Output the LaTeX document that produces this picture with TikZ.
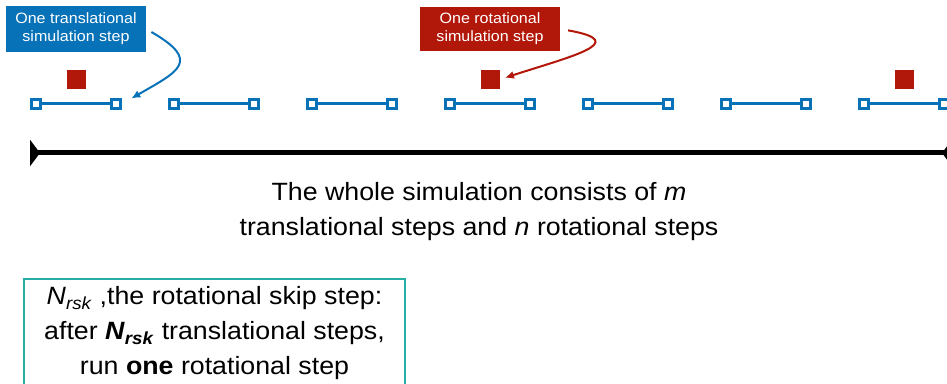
\documentclass[tikz,border=0pt]{standalone}
\usepackage{fontspec}
\setmainfont{Liberation Sans}[FakeStretch=1.07]
\usetikzlibrary{positioning,calc,arrows.meta}
\definecolor{transblue}{RGB}{8,114,184}
\definecolor{rotred}{RGB}{178,24,10}
\definecolor{skipteal}{RGB}{38,174,164}

\begin{document}
\begin{tikzpicture}[x=1pt,y=1pt,
  every node/.style={font=\fontsize{25}{35}\selectfont},
  tag/.style={text=white,inner sep=0pt,align=center,minimum width=140pt,font=\fontsize{15}{18}\selectfont},
  endpt/.style={draw=transblue,line width=3pt,fill=white,minimum size=8.5pt,inner sep=0pt},
  rotbox/.style={fill=rotred,minimum size=19pt,inner sep=0pt}]
\useasboundingbox (0,0) rectangle (947,383);
\clip (0,0) rectangle (947,383);

\node[tag,fill=transblue,minimum height=46pt] (tlab) at (76,354) {One translational\\simulation step};
\node[tag,fill=rotred,minimum height=44pt] (rlab) at (490,354) {One rotational\\simulation step};

\foreach \i/\x in {1/36,2/174,3/312,4/450,5/588,6/726,7/864}{
  \node[endpt] (a\i) at (\x,279) {};
  \node[endpt] (b\i) at (\x+80,279) {};
  \draw[transblue,line width=3pt] (a\i) -- (b\i);
}

\node[rotbox] (rot1) at (76,303.5) {};
\node[rotbox] (rot2) at (490,303.5) {};
\node[rotbox] (rot3) at (904,303.5) {};

\draw[transblue,line width=2pt,-{Latex[length=9pt,width=8pt]},shorten <=6pt,shorten >=11pt]
  (tlab.east) to[out=-30,in=30,looseness=2.1] (b1.east);
\draw[rotred,line width=2pt,-{Latex[length=9pt,width=8pt]},shorten <=8pt,shorten >=5.5pt]
  (rlab.east) to[out=-10,in=18,looseness=2.4] (rot2.east);

\coordinate (t0) at (30,230);
\coordinate (t1) at (952,230);
\draw[line width=5pt,{Triangle[reversed,length=10pt,width=26pt]}-{Triangle[reversed,length=10pt,width=26pt]}] (t0) -- (t1);

\node[align=center] (total) at (479,171) {The whole simulation consists of \textit{m}\\translational steps and \textit{n} rotational steps};

\node[draw=skipteal,line width=2pt,minimum width=381pt,minimum height=117pt,anchor=north] (legbox) at (214.5,105) {};
\node[align=center] (legtext) at ([yshift=4pt]legbox.center)
  {\textit{N}\textsubscript{\textit{rsk}} ,the rotational skip step:\\after \textbf{\textit{N}\textsubscript{\textit{rsk}}} translational steps,\\run \textbf{one} rotational step};
\end{tikzpicture}
\end{document}
